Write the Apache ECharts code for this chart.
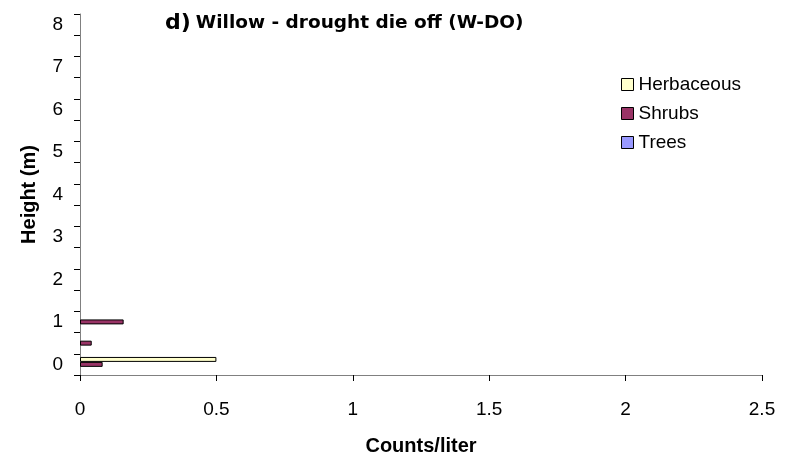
<!DOCTYPE html>
<html>
<head>
<meta charset="utf-8">
<script src="https://cdn.jsdelivr.net/npm/echarts@6/dist/echarts.min.js"></script>
<style>
html,body{margin:0;padding:0;background:#fff;}
#chart{width:785px;height:461px;}
</style>
</head>
<body>
<div id="chart"></div>
<script>
// Data
const heightCategories = ['0','0.5','1','1.5','2','2.5','3','3.5','4','4.5','5','5.5','6','6.5','7','7.5','8'];
const herbaceous = [0.5, null, null, null, null, null, null, null, null, null, null, null, null, null, null, null, null];
const shrubs     = [0.083, 0.043, 0.16, null, null, null, null, null, null, null, null, null, null, null, null, null, null];
const trees      = [null, null, null, null, null, null, null, null, null, null, null, null, null, null, null, null, null];
const xTicks = { min: 0, max: 2.5, interval: 0.5 };
const seriesNames = ['Herbaceous', 'Shrubs', 'Trees'];
const seriesColors = ['#FFFFCC', '#993366', '#9999FF'];

const font = '"Liberation Sans", Arial, sans-serif';
const chart = echarts.init(document.getElementById('chart'), null, {renderer: 'canvas'});
const seriesData = [herbaceous, shrubs, trees];

chart.setOption({
  animation: false,
  backgroundColor: '#ffffff',
  textStyle: { fontFamily: font },
  title: {
    text: '{a|d)} {b|Willow - drought die off (W-DO)}',
    left: 160,
    top: 7,
    textStyle: {
      rich: {
        a: { fontFamily: '"DejaVu Sans", sans-serif', fontWeight: 'bold', fontSize: 22, color: '#000' },
        b: { fontFamily: '"DejaVu Sans", sans-serif', fontWeight: 'bold', fontSize: 18.5, color: '#000' }
      }
    }
  },
  legend: {
    orient: 'vertical',
    left: 616,
    top: 70,
    itemWidth: 12,
    itemHeight: 12,
    itemGap: 10,
    icon: 'rect',
    data: seriesNames,
    textStyle: { fontFamily: font, fontSize: 19, color: '#000', padding: [0,0,0,0] },
    itemStyle: { borderColor: '#000', borderWidth: 1 }
  },
  grid: { left: 80, right: 23, top: 14, bottom: 79, containLabel: false },
  xAxis: {
    type: 'value',
    min: xTicks.min,
    max: xTicks.max,
    interval: xTicks.interval,
    name: 'Counts/liter',
    nameLocation: 'middle',
    nameGap: 61,
    nameTextStyle: { fontFamily: font, fontWeight: 'bold', fontSize: 20, color: '#000' },
    axisLine: { show: true, lineStyle: { color: '#808080', width: 1 } },
    axisTick: { show: true, length: 6, lineStyle: { color: '#000' } },
    splitLine: { show: false },
    axisLabel: { fontFamily: font, fontSize: 19, color: '#000', margin: 25 }
  },
  yAxis: {
    type: 'category',
    data: heightCategories,
    name: 'Height (m)',
    nameLocation: 'middle',
    nameGap: 41,
    nameRotate: 90,
    nameTextStyle: { fontFamily: font, fontWeight: 'bold', fontSize: 20, color: '#000' },
    axisLine: { show: true, lineStyle: { color: '#808080', width: 1 } },
    axisTick: { show: true, length: 6, interval: 0, lineStyle: { color: '#000' } },
    axisLabel: { fontFamily: font, fontSize: 19, color: '#000', interval: 1, margin: 17 },
    splitLine: { show: false }
  },
  series: seriesNames.map((n, i) => ({
    name: n,
    type: 'bar',
    data: seriesData[i],
    barGap: '0%',
    barCategoryGap: '30%',
    itemStyle: { color: seriesColors[i], borderColor: '#000', borderWidth: 1 }
  }))
});
</script>
</body>
</html>
